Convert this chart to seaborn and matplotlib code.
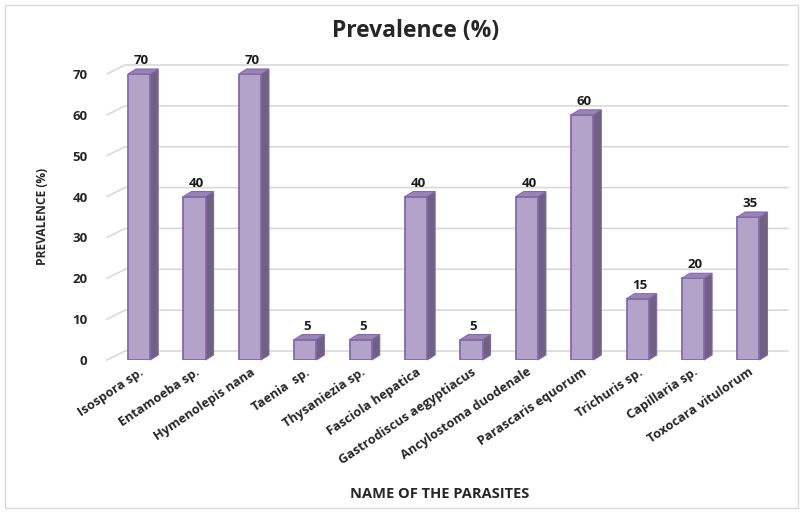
import numpy as np
import pandas as pd
import seaborn as sns
import matplotlib.pyplot as plt
from matplotlib.patches import Polygon, Rectangle
from matplotlib.lines import Line2D

parasites = ['Isospora sp.', 'Entamoeba sp.', 'Hymenolepis nana', 'Taenia  sp.',
             'Thysaniezia sp.', 'Fasciola hepatica', 'Gastrodiscus aegyptiacus',
             'Ancylostoma duodenale', 'Parascaris equorum', 'Trichuris sp.',
             'Capillaria sp.', 'Toxocara vitulorum']
prevalence = [70, 40, 70, 5, 5, 40, 5, 40, 60, 15, 20, 35]
y_ticks = [0, 10, 20, 30, 40, 50, 60, 70]

df = pd.DataFrame({'parasite': parasites, 'prevalence': prevalence})

sns.set_style('white')
plt.rcParams['font.family'] = ['Open Sans', 'DejaVu Sans']

W, H = 810, 516
fig = plt.figure(figsize=(W / 100, H / 100), dpi=100)
ax = fig.add_axes([107 / W, 1 - 360 / H, (770 - 107) / W, (360 - 74) / H])

front = '#b3a3c9'
edge = '#8568ad'
side = '#6f6182'
top = '#9885b0'

sns.barplot(data=df, x='parasite', y='prevalence', ax=ax, color=front,
            width=0.40, saturation=1, edgecolor=edge, linewidth=1.3, zorder=3)
ax.set_xlim(-0.58, 11.39)
ax.set_ylim(0, 70)
ax.set_yticks(y_ticks)
sns.despine(ax=ax, left=True, bottom=True)

fig.canvas.draw()
inv = ax.transData.inverted()
tr = ax.transData

# back wall gridlines with a little floor diagonal on the left
gdx, gdy = 18, 9
for t in y_ticks:
    x0, y0 = tr.transform((ax.get_xlim()[0], t))
    x1, _ = tr.transform((ax.get_xlim()[1], t))
    pts = inv.transform([(x0, y0), (x0 + gdx, y0 + gdy), (x1 + gdx, y0 + gdy)])
    ax.add_line(Line2D(pts[:, 0], pts[:, 1], color='#d9d9d9', lw=1.2,
                       zorder=1, clip_on=False))

# 3D side and top faces from each bar's geometry
dx, dy = 8, 5
for p in list(ax.patches):
    bx, by = p.get_x(), p.get_y()
    bw, bh = p.get_width(), p.get_height()
    (xl, yb), (xr, yt) = tr.transform([(bx, by), (bx + bw, by + bh)])
    side_pts = inv.transform([(xr, yb), (xr + dx, yb + dy), (xr + dx, yt + dy), (xr, yt)])
    top_pts = inv.transform([(xl, yt), (xl + dx, yt + dy), (xr + dx, yt + dy), (xr, yt)])
    ax.add_patch(Polygon(side_pts, closed=True, fc=side, ec=edge, lw=0.8,
                         zorder=2.9, clip_on=False))
    ax.add_patch(Polygon(top_pts, closed=True, fc=top, ec=edge, lw=0.8,
                         zorder=3.1, clip_on=False))

for i, v in enumerate(prevalence):
    ax.annotate(str(v), (i, v), xytext=(1.5, 5), textcoords='offset points',
                ha='center', va='bottom', fontsize=9.5, fontweight='bold', color='#1a1a1a')

ax.tick_params(axis='y', length=0, pad=14, labelsize=9.5)
ax.tick_params(axis='x', length=0, pad=4, labelsize=9.2)
for lab in ax.get_yticklabels():
    lab.set_fontweight('bold')
ax.set_xticks(range(len(parasites)))
ax.set_xticklabels(parasites, rotation=34, ha='right', rotation_mode='anchor',
                   fontweight='bold')
for lab in ax.get_xticklabels():
    lab.set_x(lab.get_position()[0] + 0.25)

ax.set_xlabel('')
ax.set_ylabel('')
fig.text(43 / W, 1 - 216 / H, 'PREVALENCE (%)', rotation=90, ha='center', va='center',
         fontsize=8.6, fontweight='bold')
fig.text(440 / W, 1 - 494 / H, 'NAME OF THE PARASITES', ha='center', va='center',
         fontsize=10.5, fontweight='bold')
fig.text(416 / W, 1 - 31 / H, 'Prevalence (%)', ha='center', va='center',
         fontsize=16.5, fontweight='bold')

fig.patches.append(Rectangle((5 / W, 8 / H), 793 / W, 503 / H, transform=fig.transFigure,
                             fill=False, ec='#d9d9d9', lw=1))

fig.savefig('out.png', dpi=100)
